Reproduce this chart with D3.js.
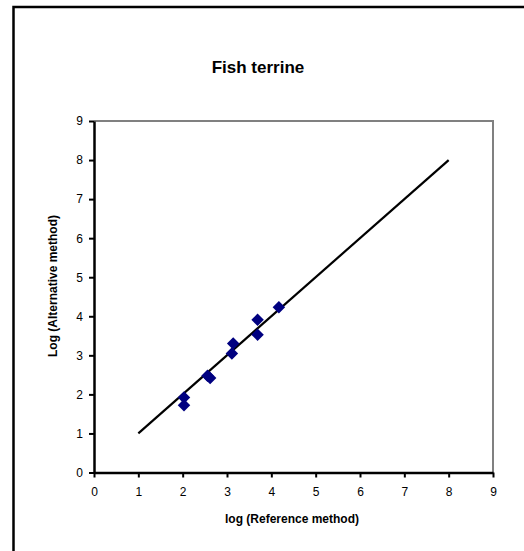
<!DOCTYPE html>
<html>
<head>
<meta charset="utf-8">
<script src="https://cdn.jsdelivr.net/npm/d3@7"></script>
<style>
  body { margin: 0; background: #fff; }
  svg { display: block; font-family: "Liberation Sans", Arial, sans-serif; }
</style>
</head>
<body>
<div id="chart"></div>
<script>
// data (log counts)
var refValues = [2.03, 2.03, 2.56, 2.62, 3.11, 3.14, 3.69, 3.69, 4.17];
var altValues = [1.92, 1.72, 2.48, 2.42, 3.05, 3.30, 3.53, 3.91, 4.23];
var lineRef = [1, 8];
var lineAlt = [1, 8];
var xTicks = [0, 1, 2, 3, 4, 5, 6, 7, 8, 9];
var yTicks = [0, 1, 2, 3, 4, 5, 6, 7, 8, 9];

var width = 524, height = 551;
var plot = {left: 94, top: 121, right: 493, bottom: 472.5};

var svg = d3.select('#chart').append('svg').attr('width', width).attr('height', height);

// outer chart frame
svg.append('rect').attr('x', 13.5).attr('y', 7).attr('width', 530).attr('height', 560)
    .attr('fill', '#fff').attr('stroke', '#000').attr('stroke-width', 2.5);

var x = d3.scaleLinear().domain([0, 9]).range([plot.left, plot.right]);
var y = d3.scaleLinear().domain([0, 9]).range([plot.bottom, plot.top]);

// plot area frame (top/right grey)
svg.append('path')
    .attr('d', 'M' + plot.left + ',' + plot.top + 'H' + plot.right + 'V' + plot.bottom)
    .attr('fill', 'none').attr('stroke', '#808080').attr('stroke-width', 2);

var xAxis = svg.append('g').attr('transform', 'translate(0,' + plot.bottom + ')')
    .call(d3.axisBottom(x).tickValues(xTicks).tickSize(5).tickPadding(10).tickSizeOuter(0));
var yAxis = svg.append('g').attr('transform', 'translate(' + plot.left + ',0)')
    .call(d3.axisLeft(y).tickValues(yTicks).tickSize(5).tickPadding(6).tickSizeOuter(0));

[xAxis, yAxis].forEach(function(g){
    g.select('.domain').attr('stroke', '#000').attr('stroke-width', 2.5);
    g.selectAll('.tick line').attr('stroke', '#000').attr('stroke-width', 2);
    g.selectAll('.tick text').attr('font-size', 12).attr('fill', '#000')
        .attr('font-family', '"Liberation Sans", Arial, sans-serif');
});
xAxis.selectAll('.tick text').attr('dy', '0.71em');

// 1:1 line
var line = d3.line().x(function(d){ return x(d[0]); }).y(function(d){ return y(d[1]); });
svg.append('path')
    .datum(d3.zip(lineRef, lineAlt))
    .attr('d', line)
    .attr('fill', 'none').attr('stroke', '#000').attr('stroke-width', 2.2);

// diamonds
var diamond = d3.symbol().type(d3.symbolSquare).size(78);
svg.selectAll('path.pt')
    .data(d3.zip(refValues, altValues))
    .enter().append('path')
    .attr('class', 'pt')
    .attr('d', diamond)
    .attr('transform', function(d){ return 'translate(' + x(d[0]) + ',' + y(d[1]) + ') rotate(45)'; })
    .attr('fill', '#000080');

// texts
svg.append('text').attr('x', 258).attr('y', 73).attr('text-anchor', 'middle')
    .attr('font-size', 17).attr('font-weight', 'bold').text('Fish terrine');
svg.append('text').attr('x', 292).attr('y', 523).attr('text-anchor', 'middle')
    .attr('font-size', 12).attr('font-weight', 'bold').text('log (Reference method)');
svg.append('text').attr('transform', 'translate(57,286) rotate(-90)').attr('text-anchor', 'middle')
    .attr('font-size', 12).attr('font-weight', 'bold').text('Log (Alternative method)');
</script>
</body>
</html>
